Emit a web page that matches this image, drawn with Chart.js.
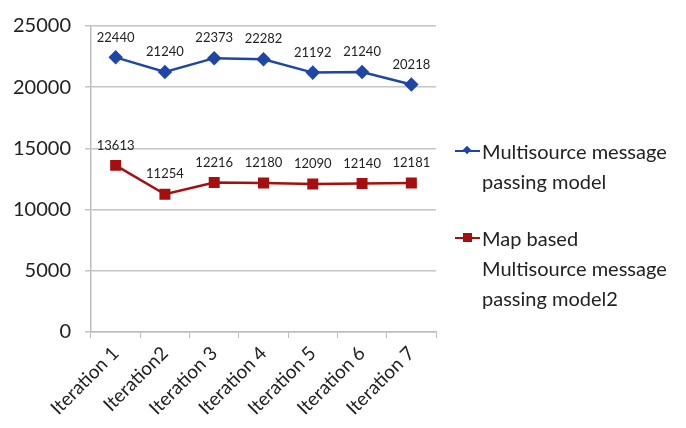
<!DOCTYPE html>
<html>
<head>
<meta charset="utf-8">
<script src="https://cdn.jsdelivr.net/npm/chart.js@4/dist/chart.umd.min.js"></script>
<style>
  html, body { margin: 0; padding: 0; background: #fff; }
  #wrap { position: relative; width: 686px; height: 428px; }
  canvas { position: absolute; left: 0; top: 0; }
  .legend-item { position: absolute; left: 455px; font-family: Lato, "Open Sans", sans-serif; font-size: 20px; line-height: 30px; color: #222; }
  .legend-item .text { position: absolute; left: 27px; top: 0; white-space: nowrap; }
  .legend-item .mark { position: absolute; left: 0; top: 14px; width: 25px; height: 2px; }
  .legend-item .dot { position: absolute; left: 9px; }
</style>
</head>
<body>
<div id="wrap">
  <canvas id="chart" width="686" height="428"></canvas>
  <div class="legend-item" style="top:136px;">
    <div class="mark" style="background:#1d46a8;"></div>
    <div class="dot" style="top:11px;left:9px;width:6px;height:6px;background:#1d46a8;transform:rotate(45deg);"></div>
    <div class="text">Multisource message<br>passing model</div>
  </div>
  <div class="legend-item" style="top:223px;">
    <div class="mark" style="background:#a50f0f;"></div>
    <div class="dot" style="top:10px;left:8px;width:9px;height:9px;background:#a50f0f;"></div>
    <div class="text">Map based<br>Multisource message<br>passing model2</div>
  </div>
</div>
<script>
const labels = ['Iteration 1', 'Iteration2', 'Iteration 3', 'Iteration 4', 'Iteration 5', 'Iteration 6', 'Iteration 7'];
const multisource = [22440, 21240, 22373, 22282, 21192, 21240, 20218];
const mapBased = [13613, 11254, 12216, 12180, 12090, 12140, 12181];
const yTicks = [0, 5000, 10000, 15000, 20000, 25000];

const FONT = 'Lato, "Open Sans", sans-serif';

// draws the value above each point
const valueLabels = {
  id: 'valueLabels',
  afterDatasetsDraw(chart) {
    const ctx = chart.ctx;
    ctx.save();
    ctx.font = '13px ' + FONT;
    ctx.fillStyle = '#222';
    ctx.textAlign = 'center';
    ctx.textBaseline = 'middle';
    chart.data.datasets.forEach((ds, i) => {
      chart.getDatasetMeta(i).data.forEach((pt, j) => {
        ctx.fillText(String(ds.data[j]), pt.x, pt.y - 20);
      });
    });
    ctx.restore();
  }
};

new Chart(document.getElementById('chart'), {
  type: 'line',
  data: {
    labels: labels,
    datasets: [
      {
        label: 'Multisource message passing model',
        data: multisource,
        borderColor: '#1d46a8',
        backgroundColor: '#1d46a8',
        borderWidth: 2.5,
        pointStyle: 'rectRot',
        pointRadius: 5.5,
        pointHoverRadius: 5.5,
        tension: 0
      },
      {
        label: 'Map based Multisource message passing model2',
        data: mapBased,
        borderColor: '#a50f0f',
        backgroundColor: '#a50f0f',
        borderWidth: 2.5,
        pointStyle: 'rect',
        pointRadius: 6,
        pointHoverRadius: 6,
        tension: 0
      }
    ]
  },
  options: {
    responsive: false,
    animation: false,
    events: [],
    layout: { padding: { top: 22, right: 250, left: 0, bottom: 0 } },
    plugins: { legend: { display: false }, tooltip: { enabled: false } },
    scales: {
      x: {
        offset: true,
        grid: { display: true, drawOnChartArea: false, color: '#bdbdbd', tickLength: 6, offset: true },
        border: { color: '#bdbdbd', width: 1.5 },
        ticks: { color: '#222', font: { family: FONT, size: 19 }, minRotation: 45, maxRotation: 45, padding: 4 },
        afterFit(scale) { scale.height = 96; }
      },
      y: {
        min: 0,
        max: 25000,
        afterBuildTicks(scale) { scale.ticks = yTicks.map(v => ({ value: v })); },
        grid: { color: '#c4c4c4', lineWidth: 1.5, tickLength: 6 },
        border: { color: '#bdbdbd', width: 1.5 },
        ticks: { color: '#222', font: { family: FONT, size: 20 }, padding: 14, callback: v => String(v) },
        afterFit(scale) { scale.width = 91; }
      }
    }
  },
  plugins: [valueLabels]
});
</script>
</body>
</html>
